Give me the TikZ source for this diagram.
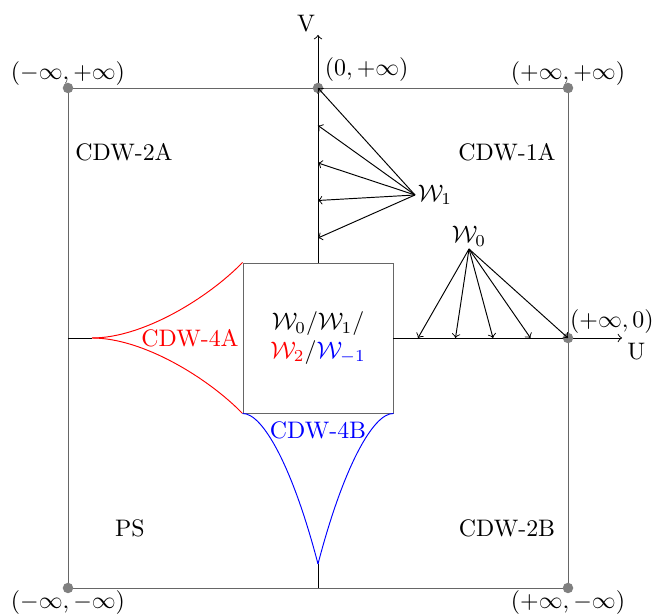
\documentclass[tikz,border=0pt]{standalone}
\usepackage{amsmath}
\usetikzlibrary{positioning, calc}
\definecolor{framegray}{gray}{0.4}
\definecolor{dotgray}{gray}{0.5}
\tikzstyle{dot} = [circle, fill=dotgray, inner sep=0pt, minimum size=4.4pt]
\tikzstyle{frame} = [draw=framegray]
\tikzstyle{arrow} = [->]
\tikzstyle{core} = [rectangle, draw=framegray, minimum size=2.208cm, inner sep=0pt, align=center]
\tikzstyle{cornerlabel} = [inner sep=0pt, label distance=-1.5pt]

\begin{document}
\begin{tikzpicture}[x=0.736cm, y=0.736cm]
    \useasboundingbox (-6.36,-5.52) rectangle (6.9,6.76);

    % Corners of the phase diagram
    \coordinate (nw) at (-5,5);
    \coordinate (ne) at (5,5);
    \coordinate (se) at (5,-5);
    \coordinate (sw) at (-5,-5);
    \coordinate (n) at (0,5);
    \coordinate (e) at (5,0);
    \coordinate (s) at (0,-5);
    \coordinate (w) at (-5,0);

    % Axis tips and cusps
    \coordinate (utip) at (6.08,0);
    \coordinate (vtip) at (0,6.06);
    \coordinate (cuspA) at (-4.52,0);
    \coordinate (cuspB) at (0,-4.52);

    % Outer frame
    \draw[frame] (nw) -- (ne) -- (se) -- (sw) -- cycle;

    % Center
    \node[core, fill=white] (center) at (0,0) {
        $\mathcal{W}_0/\mathcal{W}_1/$ \\
        $\textcolor{red}{\mathcal{W}_2}/\textcolor{blue}{\mathcal{W}_{-1}}$
    };

    % Axes
    \draw[arrow] (center.north) -- (vtip) node[above left, inner sep=1pt] (vlabel) {V};
    \draw[arrow] (center.east) -- (utip) node[below right, inner sep=2pt] (ulabel) {U};
    \draw (w) -- (cuspA);
    \draw (cuspB) -- (s);

    % CDW-4A
    \draw[red] (cuspA) .. controls (-3.5,0) and (-2.2,0.8) .. (center.north west);
    \draw[red] (cuspA) .. controls (-3.5,0) and (-2.2,-0.8) .. (center.south west);
    \node[red] (cdwfoura) at (-2.56,0) {CDW-4A};

    % CDW-4B
    \draw[blue] (center.south west) .. controls (-1.1,-1.5) and (-0.5,-2.6) .. (cuspB);
    \draw[blue] (center.south east) .. controls (1.1,-1.5) and (0.5,-2.6) .. (cuspB);
    \node[blue] (cdwfourb) at (0,-1.84) {CDW-4B};

    % Regions
    \node (cdwtwoa) at (-3.88,3.72) {CDW-2A};
    \node (cdwonea) at (3.78,3.72) {CDW-1A};
    \node (ps) at (-3.76,-3.8) {PS};
    \node (cdwtwob) at (3.78,-3.8) {CDW-2B};

    % Fixed points
    \node[dot, label={[cornerlabel]above:{$(-\infty,+\infty)$}}] (dnw) at (nw) {};
    \node[dot, label={[cornerlabel]above:{$(+\infty,+\infty)$}}] (dne) at (ne) {};
    \node[dot, label={[cornerlabel]below:{$(+\infty,-\infty)$}}] (dse) at (se) {};
    \node[dot, label={[cornerlabel]below:{$(-\infty,-\infty)$}}] (dsw) at (sw) {};
    \node[dot, label={[inner sep=1pt]above right:{$(0,+\infty)$}}] (dn) at (n) {};
    \node[dot, label={[inner sep=0pt, xshift=-1pt]above right:{$(+\infty,0)$}}] (de) at (e) {};

    % W1 flows onto the V axis
    \node[anchor=west, inner sep=1pt] (wone) at (1.94,2.86) {$\mathcal{W}_1$};
    \coordinate (v2) at (0,4.25);
    \coordinate (v3) at (0,3.5);
    \coordinate (v4) at (0,2.75);
    \coordinate (v5) at (0,2);
    \draw[arrow] (wone.west) -- (n);
    \draw[arrow] (wone.west) -- (v2);
    \draw[arrow] (wone.west) -- (v3);
    \draw[arrow] (wone.west) -- (v4);
    \draw[arrow] (wone.west) -- (v5);

    % W0 flows onto the U axis
    \node[anchor=south, inner sep=1pt] (wzero) at (3.02,1.78) {$\mathcal{W}_0$};
    \coordinate (u1) at (2,0);
    \coordinate (u2) at (2.75,0);
    \coordinate (u3) at (3.5,0);
    \coordinate (u4) at (4.25,0);
    \draw[arrow] (wzero.south) -- (u1);
    \draw[arrow] (wzero.south) -- (u2);
    \draw[arrow] (wzero.south) -- (u3);
    \draw[arrow] (wzero.south) -- (u4);
    \draw[arrow] (wzero.south) -- (e);
\end{tikzpicture}
\end{document}
